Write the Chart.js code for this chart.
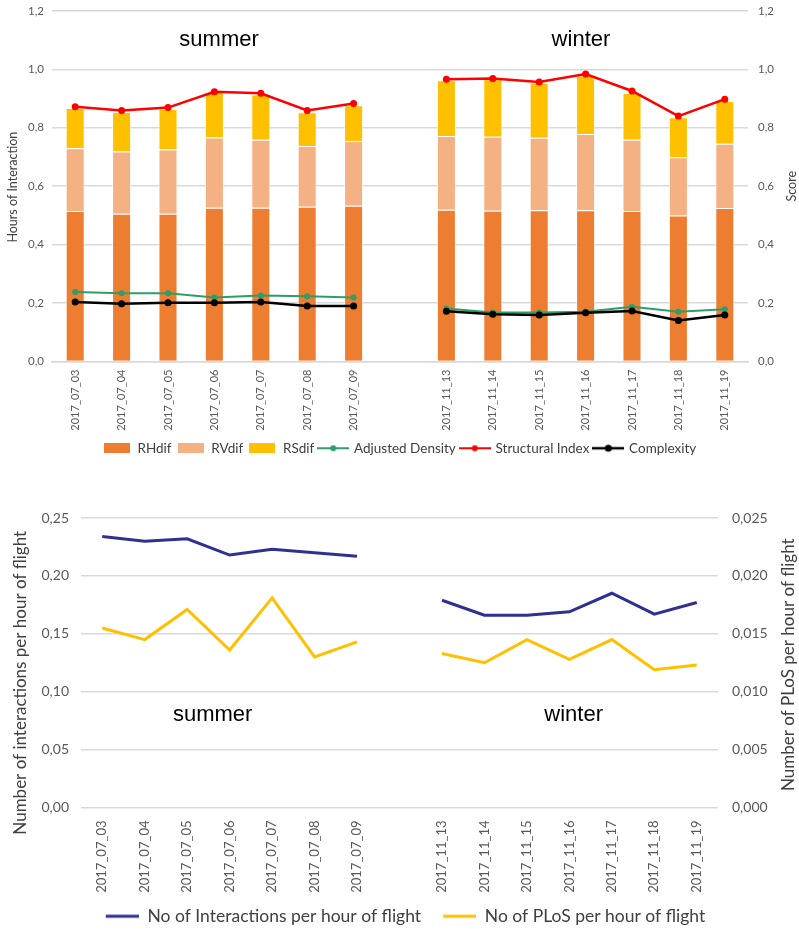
<!DOCTYPE html>
<html lang="en">
<head>
    <meta charset="UTF-8">
    <title>Interactions summer / winter</title>
    <script src="https://cdn.jsdelivr.net/npm/chart.js"></script>
    <style>
        html, body { margin: 0; padding: 0; background: #fff; overflow: hidden; }
        #wrap { position: relative; width: 799px; height: 932px; overflow: hidden; }
        #topBox { position: absolute; left: 0; top: -6px; width: 799px; height: 471px; }
        #bottomBox { position: absolute; left: 0; top: 465px; width: 799px; height: 470px; }
    </style>
</head>
<body>
<div id="wrap">
    <div id="topBox"><canvas id="topChart" width="799" height="471"></canvas></div>
    <div id="bottomBox"><canvas id="bottomChart" width="799" height="470"></canvas></div>
</div>

<script>
    // categories
    const summerDays = ["2017_07_03", "2017_07_04", "2017_07_05", "2017_07_06", "2017_07_07", "2017_07_08", "2017_07_09"];
    const winterDays = ["2017_11_13", "2017_11_14", "2017_11_15", "2017_11_16", "2017_11_17", "2017_11_18", "2017_11_19"];

    // top chart - hours of interaction (stacked) and scores
    const rhdifSummer = [0.515, 0.506, 0.506, 0.526, 0.526, 0.530, 0.533];
    const rhdifWinter = [0.519, 0.516, 0.518, 0.518, 0.515, 0.500, 0.525];
    const rvdifSummer = [0.215, 0.213, 0.220, 0.241, 0.233, 0.208, 0.222];
    const rvdifWinter = [0.253, 0.253, 0.248, 0.261, 0.244, 0.199, 0.220];
    const rsdifSummer = [0.138, 0.135, 0.138, 0.155, 0.155, 0.115, 0.122];
    const rsdifWinter = [0.191, 0.197, 0.188, 0.200, 0.160, 0.137, 0.147];
    const adjDensitySummer = [0.238, 0.234, 0.234, 0.219, 0.226, 0.223, 0.219];
    const adjDensityWinter = [0.181, 0.168, 0.168, 0.170, 0.187, 0.170, 0.179];
    const structIndexSummer = [0.872, 0.859, 0.869, 0.923, 0.918, 0.859, 0.883];
    const structIndexWinter = [0.966, 0.969, 0.957, 0.984, 0.926, 0.840, 0.898];
    const complexitySummer = [0.204, 0.198, 0.201, 0.201, 0.204, 0.190, 0.190];
    const complexityWinter = [0.172, 0.162, 0.159, 0.167, 0.173, 0.140, 0.159];

    // bottom chart - per hour of flight
    const interactionsSummer = [0.234, 0.230, 0.232, 0.218, 0.223, 0.220, 0.217];
    const interactionsWinter = [0.179, 0.166, 0.166, 0.169, 0.185, 0.167, 0.177];
    const plosSummer = [0.0155, 0.0145, 0.0171, 0.0136, 0.0181, 0.0130, 0.0143];
    const plosWinter = [0.0133, 0.0125, 0.0145, 0.0128, 0.0145, 0.0119, 0.0123];

    const topTicks = [0, 0.2, 0.4, 0.6, 0.8, 1.0, 1.2];
    const leftTicksBottom = [0, 0.05, 0.10, 0.15, 0.20, 0.25];
    const rightTicksBottom = [0, 0.005, 0.010, 0.015, 0.020, 0.025];

    // one empty category between the two seasons
    const labels = [...summerDays, "", ...winterDays];
    function join(a, b) { return [...a, null, ...b]; }

    const gridColor = "#D9D9D9";
    const tickColor = "#595959";
    const titleColor = "#404040";
    const baseFont = "Lato, 'Open Sans', sans-serif";

    Chart.defaults.font.family = baseFont;
    Chart.defaults.color = tickColor;
    Chart.defaults.animation = false;

    function comma(v, d) { return v.toFixed(d).replace(".", ","); }

    // little pictures for legend entries
    function boxIcon(color) {
        const c = document.createElement("canvas");
        c.width = 26; c.height = 10;
        const ctx = c.getContext("2d");
        ctx.fillStyle = color;
        ctx.fillRect(0, 0, 26, 10);
        return c;
    }
    // lead = empty room left of the line, used to space the entries
    function lineIcon(color, width, dot, len, lead) {
        lead = lead || 0;
        const c = document.createElement("canvas");
        c.width = len + lead; c.height = 10;
        const ctx = c.getContext("2d");
        ctx.strokeStyle = color;
        ctx.lineWidth = width;
        ctx.beginPath();
        ctx.moveTo(lead, 5); ctx.lineTo(lead + len, 5);
        ctx.stroke();
        if (dot) {
            ctx.fillStyle = color;
            ctx.beginPath();
            ctx.arc(lead + len / 2, 5, dot, 0, Math.PI * 2);
            ctx.fill();
        }
        return c;
    }

    function legendItems(chart) {
        return chart.data.datasets.map((ds, i) => ({
            text: ds.label,
            datasetIndex: i,
            pointStyle: ds.icon,
            fillStyle: ds.backgroundColor,
            strokeStyle: ds.borderColor,
            lineWidth: 0,
            hidden: false,
            fontColor: titleColor
        }));
    }

    // season names written inside the plot
    const seasonText = {
        id: "seasonText",
        afterDraw(chart, args, opts) {
            const ctx = chart.ctx;
            const x = chart.scales.x;
            const y = chart.scales.y;
            ctx.save();
            ctx.font = opts.size + "px 'Liberation Sans', Arial, sans-serif";
            ctx.fillStyle = "#000";
            ctx.textAlign = "center";
            ctx.textBaseline = "middle";
            ctx.fillText("summer", x.getPixelForValue(opts.sx), y.getPixelForValue(opts.yv));
            ctx.fillText("winter", x.getPixelForValue(opts.wx), y.getPixelForValue(opts.yv));
            ctx.restore();
        }
    };

    // vertical axis titles, both reading upwards
    const sideTitles = {
        id: "sideTitles",
        afterDraw(chart, args, opts) {
            const ctx = chart.ctx;
            const area = chart.chartArea;
            const mid = (area.top + area.bottom) / 2;
            ctx.save();
            ctx.fillStyle = titleColor;
            ctx.textAlign = "center";
            ctx.textBaseline = "middle";
            opts.items.forEach(t => {
                ctx.save();
                ctx.font = t.size + "px " + baseFont;
                ctx.translate(t.x, mid + (t.dy || 0));
                ctx.rotate(-Math.PI / 2);
                ctx.fillText(t.text, 0, 0);
                ctx.restore();
            });
            ctx.restore();
        }
    };

    const barBorder = "rgba(255,255,255,0.7)";

    const topConfig = {
        type: "bar",
        data: {
            labels: labels,
            datasets: [
                { label: "RHdif", data: join(rhdifSummer, rhdifWinter), backgroundColor: "#ED7D31", borderColor: barBorder, borderWidth: 1, yAxisID: "y", order: 2, icon: boxIcon("#ED7D31") },
                { label: "RVdif", data: join(rvdifSummer, rvdifWinter), backgroundColor: "#F4B183", borderColor: barBorder, borderWidth: 1, yAxisID: "y", order: 2, icon: boxIcon("#F4B183") },
                { label: "RSdif", data: join(rsdifSummer, rsdifWinter), backgroundColor: "#FFC000", borderColor: barBorder, borderWidth: 1, yAxisID: "y", order: 2, icon: boxIcon("#FFC000") },
                { type: "line", label: "Adjusted Density", data: join(adjDensitySummer, adjDensityWinter), borderColor: "#2E9E68", backgroundColor: "#2E9E68", borderWidth: 2, pointRadius: 3, pointBorderWidth: 0, yAxisID: "y2", order: 1, spanGaps: false, icon: lineIcon("#2E9E68", 2, 3, 32) },
                { type: "line", label: "Structural Index", data: join(structIndexSummer, structIndexWinter), borderColor: "#FF0000", backgroundColor: "#FF0000", borderWidth: 2.5, pointRadius: 3.5, pointBorderWidth: 0, yAxisID: "y2", order: 1, spanGaps: false, icon: lineIcon("#FF0000", 2, 3, 32) },
                { type: "line", label: "Complexity", data: join(complexitySummer, complexityWinter), borderColor: "#000000", backgroundColor: "#000000", borderWidth: 2.5, pointRadius: 3.5, pointBorderWidth: 0, yAxisID: "y2", order: 0, spanGaps: false, icon: lineIcon("#000000", 2.5, 3.5, 32) }
            ]
        },
        options: {
            responsive: false,
            layout: { padding: { top: 5, left: 0, right: 0, bottom: 0 } },
            datasets: { bar: { barPercentage: 0.41, categoryPercentage: 1 } },
            plugins: {
                tooltip: { enabled: false },
                seasonText: { sx: 3.1, wx: 10.9, yv: 1.1, size: 22 },
                sideTitles: { items: [
                    { text: "Hours of Interaction", x: 13, size: 12.5, dy: 1 },
                    { text: "Score", x: 792, size: 12.5, dy: 0 }
                ] },
                legend: {
                    position: "bottom",
                    labels: {
                        font: { size: 13.5 },
                        usePointStyle: true,
                        pointStyleWidth: 28,
                        padding: 5,
                        generateLabels: legendItems
                    }
                }
            },
            scales: {
                x: {
                    stacked: true,
                    grid: { display: false, drawTicks: false },
                    border: { display: true, color: gridColor, width: 1.5 },
                    ticks: { autoSkip: false, minRotation: 90, maxRotation: 90, padding: 8, font: { size: 11 }, color: tickColor },
                    afterFit(scale) { scale.height = 75; }
                },
                y: {
                    stacked: true,
                    position: "left",
                    min: 0, max: 1.2,
                    afterBuildTicks(scale) { scale.ticks = topTicks.map(v => ({ value: v })); },
                    grid: { color: gridColor, lineWidth: 1.5, drawTicks: false },
                    border: { display: false },
                    ticks: { padding: 8, font: { size: 11.5 }, color: tickColor, callback: v => comma(v, 1) },
                    afterFit(scale) { scale.width = 52; }
                },
                y2: {
                    position: "right",
                    min: 0, max: 1.2,
                    afterBuildTicks(scale) { scale.ticks = topTicks.map(v => ({ value: v })); },
                    grid: { display: false, drawTicks: false },
                    border: { display: false },
                    ticks: { padding: 10, font: { size: 11.5 }, color: tickColor, callback: v => comma(v, 1) },
                    afterFit(scale) { scale.width = 51; }
                }
            }
        },
        plugins: [seasonText, sideTitles]
    };

    new Chart(document.getElementById("topChart"), topConfig);

    const bottomConfig = {
        type: "line",
        data: {
            labels: labels,
            datasets: [
                { label: "No of Interactions per hour of flight", data: join(interactionsSummer, interactionsWinter), borderColor: "#2E3192", backgroundColor: "#2E3192", borderWidth: 3, pointRadius: 0, yAxisID: "y", spanGaps: false, icon: lineIcon("#2E3192", 3, 0, 33, 12) },
                { label: "No of PLoS per hour of flight", data: join(plosSummer, plosWinter), borderColor: "#FFC000", backgroundColor: "#FFC000", borderWidth: 3, pointRadius: 0, yAxisID: "y2", spanGaps: false, icon: lineIcon("#FFC000", 3, 0, 33, 12) }
            ]
        },
        options: {
            responsive: false,
            layout: { padding: { top: 53, left: 0, right: 0, bottom: 0 } },
            plugins: {
                tooltip: { enabled: false },
                seasonText: { sx: 2.6, wx: 11.1, yv: 0.08, size: 22 },
                sideTitles: { items: [
                    { text: "Number of interactions per hour of flight", x: 21, size: 17, dy: 20 },
                    { text: "Number of PLoS per hour of flight", x: 789, size: 17, dy: 2 }
                ] },
                legend: {
                    position: "bottom",
                    labels: {
                        font: { size: 17.5 },
                        usePointStyle: true,
                        pointStyleWidth: 45,
                        padding: 10,
                        generateLabels: legendItems
                    }
                }
            },
            scales: {
                x: {
                    offset: true,
                    grid: { display: false, drawTicks: false },
                    border: { display: false },
                    ticks: { autoSkip: false, minRotation: 90, maxRotation: 90, padding: 13, font: { size: 13 }, color: tickColor },
                    afterFit(scale) { scale.height = 90; }
                },
                y: {
                    position: "left",
                    min: 0, max: 0.25,
                    afterBuildTicks(scale) { scale.ticks = leftTicksBottom.map(v => ({ value: v })); },
                    grid: { color: gridColor, lineWidth: 1.5, drawTicks: false },
                    border: { display: false },
                    ticks: { padding: 12, font: { size: 14 }, color: tickColor, callback: v => comma(v, 2) },
                    afterFit(scale) { scale.width = 81; }
                },
                y2: {
                    position: "right",
                    min: 0, max: 0.025,
                    afterBuildTicks(scale) { scale.ticks = rightTicksBottom.map(v => ({ value: v })); },
                    grid: { display: false, drawTicks: false },
                    border: { display: false },
                    ticks: { padding: 14, font: { size: 14 }, color: tickColor, callback: v => comma(v, 3) },
                    afterFit(scale) { scale.width = 81; }
                }
            }
        },
        plugins: [seasonText, sideTitles]
    };

    new Chart(document.getElementById("bottomChart"), bottomConfig);
</script>
</body>
</html>
